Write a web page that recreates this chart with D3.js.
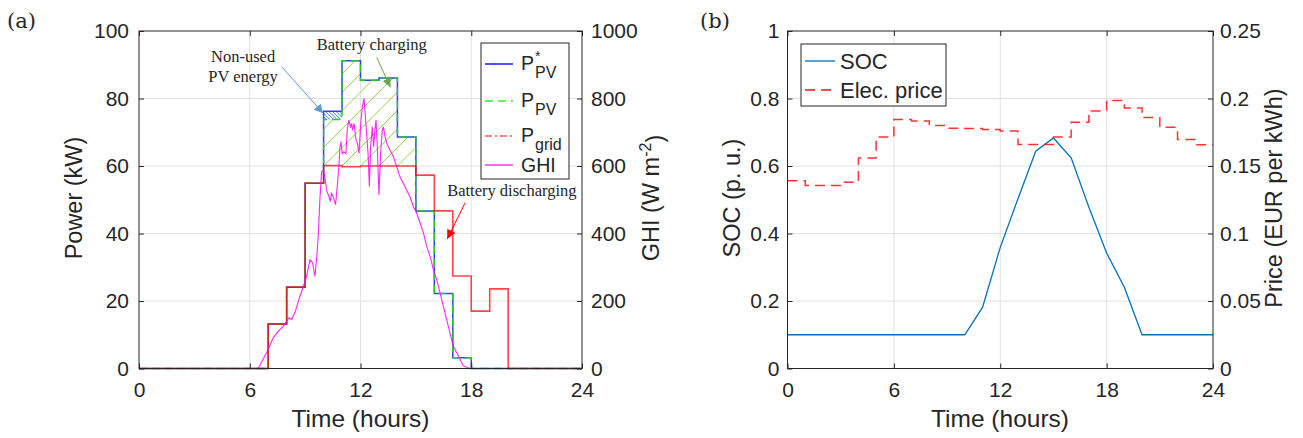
<!DOCTYPE html>
<html><head><meta charset="utf-8">
<script src="https://cdn.jsdelivr.net/npm/d3@7"></script>
<style>
body{margin:0;background:#fff}
text{font-family:"Liberation Sans",Arial,sans-serif;fill:#262626}
.serif{font-family:"Liberation Serif","Times New Roman",serif}
.panel{font-family:"DejaVu Serif",serif}
</style>
</head><body><svg id="c" width="1303" height="438"></svg>
<script>
// ---------------- DATA ----------------
// hourly step values, interval [h, h+1)
const pvStar = [0,0,0,0,0,0,0,13.2,24.1,54.9,76.2,91.2,85.4,86.1,68.6,46.7,22.2,3.2,0,0,0,0,0,0];
const pvUsed = [0,0,0,0,0,0,0,13.2,24.1,54.9,73.8,91.2,85.4,86.1,68.6,46.7,22.2,3.2,0,0,0,0,0,0];
const pGrid  = [0,0,0,0,0,0,0,13.2,24.1,54.9,60.1,59.8,60,60,60,57.3,46.7,27.4,17.0,23.6,0,0,0,0];
const ghiT = [0,6.46,7.0,7.27,7.54,7.81,7.99,8.14,8.26,8.44,8.72,8.90,9.08,9.26,9.40,9.53,9.62,9.71,9.80,9.89,9.98,10.07,10.16,10.29,10.36,10.43,10.52,10.65,10.74,10.83,10.89,10.94,11.01,11.10,11.21,11.28,11.37,11.46,11.52,11.57,11.65,11.74,11.83,11.92,12.01,12.10,12.19,12.24,12.33,12.41,12.48,12.55,12.64,12.71,12.78,12.84,12.91,13.00,13.09,13.18,13.24,13.33,13.42,13.60,13.78,13.96,14.14,14.32,14.50,14.68,14.86,15.01,15.23,15.41,15.59,15.77,15.95,16.13,16.31,16.49,16.67,16.85,17.03,17.22,17.40,17.58,17.94,24];
const ghiV = [0,0,56,91,110,125,140,150,145,165,214,243,273,322,314,273,322,391,500,583,588,568,529,509,495,519,509,485,539,598,657,672,637,642,637,706,736,716,726,706,726,682,667,637,726,775,800,766,697,637,539,657,716,657,706,736,657,514,637,706,716,687,667,647,628,598,568,549,529,509,480,465,431,401,362,332,293,263,224,184,145,105,66,46,27,7,0,0];
const socT = d3.range(0,25);
const socV = [0.1,0.1,0.1,0.1,0.1,0.1,0.1,0.1,0.1,0.1,0.1,0.181,0.359,0.503,0.644,0.683,0.624,0.478,0.342,0.241,0.1,0.1,0.1,0.1,0.1];
const price = [0.139,0.1356,0.1356,0.138,0.156,0.1715,0.1844,0.1834,0.180,0.178,0.1777,0.177,0.176,0.166,0.166,0.1715,0.1824,0.1908,0.1985,0.193,0.186,0.1787,0.1696,0.1658];
const xTicks = [0,6,12,18,24];
const powerTicks = [0,20,40,60,80,100];
const ghiTicks = [0,200,400,600,800,1000];
const socTicks = [0,0.2,0.4,0.6,0.8,1];
const priceTicks = [0,0.05,0.1,0.15,0.2,0.25];
const chargeStart = 10, chargeEnd = 15, unusedStart = 10, unusedEnd = 11;
// annotations in data coordinates [hour, kW]
const annTexts = [
  {t:"Non-used", h:5.64, v:92.4}, {t:"PV energy", h:5.64, v:86.5},
  {t:"Battery charging", h:12.61, v:95.9}, {t:"Battery discharging", h:20.2, v:52.6}
];
const annArrows = [
  {from:[7.73,89.4], to:[9.98,75.6], color:"#5b9bd5"},
  {from:[12.88,92.2], to:[13.62,83.3], color:"#6aa84f"},
  {from:[17.67,49.1], to:[16.7,38.4], color:"#ff0000"}
];

// ---------------- SCALES ----------------
const svg = d3.select("#c");
const xA = d3.scaleLinear().domain([0,24]).range([139,582]);
const yA = d3.scaleLinear().domain([0,100]).range([368.5,31]);
const yA2 = d3.scaleLinear().domain([0,1000]).range([368.5,31]);
const xB = d3.scaleLinear().domain([0,24]).range([787.5,1213]);
const yB = d3.scaleLinear().domain([0,1]).range([368.5,31]);
const yB2 = d3.scaleLinear().domain([0,0.25]).range([368.5,31]);

const steps = vals => vals.map((v,i)=>[i,v]).concat([[vals.length, vals[vals.length-1]]]);

function grid(g, x, y, xt, yt){
  const [x0,x1]=x.range(), [y1,y0]=y.range();
  g.append("g").selectAll("line").data(xt.slice(1,-1)).join("line")
    .attr("x1",d=>x(d)).attr("x2",d=>x(d)).attr("y1",y0).attr("y2",y1)
    .attr("stroke","#e2e2e2").attr("stroke-width",1);
  g.append("g").selectAll("line").data(yt.slice(1,-1)).join("line")
    .attr("y1",d=>y(d)).attr("y2",d=>y(d)).attr("x1",x0).attr("x2",x1)
    .attr("stroke","#e2e2e2").attr("stroke-width",1);
}
function axes(g, x, yl, yr, ylt, yrt, padL, padR){
  const [x0,x1]=x.range(), [y1,y0]=yl.range();
  const style = sel => {
    sel.attr("font-size",null).attr("font-family",null);
    sel.select(".domain").remove();
    sel.selectAll(".tick line").attr("stroke","#262626");
    sel.selectAll("text").style("font-size","21px").attr("fill","#262626");
  };
  g.append("g").attr("transform",`translate(0,${y1})`)
    .call(d3.axisBottom(x).tickValues(xTicks).tickSize(-5).tickPadding(14)).call(style);
  g.append("g").attr("transform",`translate(0,${y0})`)
    .call(d3.axisTop(x).tickValues(xTicks).tickSize(-5).tickFormat("")).call(style);
  g.append("g").attr("transform",`translate(${x0},0)`)
    .call(d3.axisLeft(yl).tickValues(ylt).tickSize(-5).tickPadding(padL).tickFormat(d=>String(d))).call(style);
  g.append("g").attr("transform",`translate(${x1},0)`)
    .call(d3.axisRight(yr).tickValues(yrt).tickSize(-5).tickPadding(padR).tickFormat(d=>String(d))).call(style);
  g.append("rect").attr("x",x0).attr("y",y0).attr("width",x1-x0).attr("height",y1-y0)
    .attr("fill","none").attr("stroke","#262626").attr("stroke-width",1);
}

const defs = svg.append("defs");
function marker(id,color){
  defs.append("marker").attr("id",id).attr("viewBox","0 0 10 10").attr("refX",10).attr("refY",5)
    .attr("markerWidth",9).attr("markerHeight",9).attr("markerUnits","userSpaceOnUse").attr("orient","auto")
    .append("path").attr("d","M0,0 L10,5 L0,10 Z").attr("fill",color);
}
annArrows.forEach((a,i)=>marker("arr"+i,a.color));

// ---------------- PANEL (a) ----------------
const gA = svg.append("g");
grid(gA, xA, yA, xTicks, powerTicks);

const lineA = d3.line().x(d=>xA(d[0])).y(d=>yA(d[1])).curve(d3.curveStepAfter);
const areaA = d3.area().x(d=>xA(d[0])).y0(d=>yA(d[1])).y1(d=>yA(d[2])).curve(d3.curveStepAfter);

// charging region: between pGrid and pvUsed
const chData = d3.range(chargeStart, chargeEnd+1).map(h=>{
  const i = Math.min(h, chargeEnd-1); return [h, pGrid[i], pvUsed[i]];});
defs.append("clipPath").attr("id","chClip").append("path").attr("d", areaA(chData));
const gH = gA.append("g").attr("clip-path","url(#chClip)");
d3.range(-30,40).forEach(k=>{
  const x0 = xA(k), y0 = yA(60);
  gH.append("line").attr("x1",x0-500).attr("y1",y0+500).attr("x2",x0+500).attr("y2",y0-500)
    .attr("stroke","#92cc48").attr("stroke-width",1);
});
// non-used region: between pvUsed and pvStar
const nuData = d3.range(unusedStart, unusedEnd+1).map(h=>{
  const i = Math.min(h, unusedEnd-1); return [h, pvUsed[i], pvStar[i]];});
defs.append("clipPath").attr("id","nuClip").append("path").attr("d", areaA(nuData));
const gN = gA.append("g").attr("clip-path","url(#nuClip)");
d3.range(0,30).forEach(k=>{
  const x0 = xA(unusedStart) - 20 + k*3.6, y0 = yA(pvStar[unusedStart]);
  gN.append("line").attr("x1",x0).attr("y1",y0).attr("x2",x0+40).attr("y2",y0+40)
    .attr("stroke","#3f7fdc").attr("stroke-width",1);
});

gA.append("path").attr("d", lineA(steps(pvStar))).attr("fill","none")
  .attr("stroke","#1a1aff").attr("stroke-width",1.5).attr("stroke-opacity",0.85);
gA.append("path").attr("d", lineA(steps(pvUsed))).attr("fill","none")
  .attr("stroke","#22cc22").attr("stroke-width",1.4).attr("stroke-dasharray","8,5");
gA.append("path").attr("d", lineA(steps(pGrid))).attr("fill","none")
  .attr("stroke","#ff0000").attr("stroke-width",1.6).attr("stroke-opacity",0.72);
gA.append("path").attr("d", d3.line().x((d,i)=>xA(ghiT[i])).y(d=>yA2(d))(ghiV)).attr("fill","none")
  .attr("stroke","#ff00ff").attr("stroke-width",1.1).attr("stroke-opacity",0.85);

// annotations
annArrows.forEach((a,i)=>{
  gA.append("line").attr("x1",xA(a.from[0])).attr("y1",yA(a.from[1]))
    .attr("x2",xA(a.to[0])).attr("y2",yA(a.to[1]))
    .attr("stroke",a.color).attr("stroke-width",1).attr("marker-end",`url(#arr${i})`);
});
annTexts.forEach(a=>{
  gA.append("text").attr("class","serif").attr("x",xA(a.h)).attr("y",yA(a.v)).attr("dy","0.32em")
    .attr("text-anchor","middle").style("font-size","16.5px").attr("fill","#111").text(a.t);
});

axes(gA, xA, yA, yA2, powerTicks, ghiTicks, 10, 9);

// legend (a)
const lg = gA.append("g");
lg.append("rect").attr("x",481).attr("y",43).attr("width",88).attr("height",136)
  .attr("fill","#fff").attr("stroke","#262626");
const legA = [
  {y:64, color:"#4d4dff", dash:null, main:"P", sub:"PV", sup:"*"},
  {y:101, color:"#66ee66", dash:"8,5", main:"P", sub:"PV"},
  {y:136, color:"#ff8080", dash:"7,3,2,3", main:"P", sub:"grid"},
  {y:165, color:"#ff66ff", dash:null, main:"GHI"}
];
legA.forEach(e=>{
  lg.append("line").attr("x1",485).attr("x2",513).attr("y1",e.y).attr("y2",e.y)
    .attr("stroke",e.color).attr("stroke-width",2).attr("stroke-dasharray",e.dash);
  lg.append("text").attr("x",521).attr("y",e.sub? e.y+6 : e.y+7).style("font-size","19.5px").text(e.main);
  if(e.sup) lg.append("text").attr("x",535).attr("y",e.y-3).style("font-size","14px").text(e.sup);
  if(e.sub) lg.append("text").attr("x",535).attr("y",e.y+14).style("font-size","16px").text(e.sub);
});

// labels (a)
svg.append("text").attr("x",(139+582)/2).attr("y",427).attr("text-anchor","middle").style("font-size","24.5px").text("Time (hours)");
svg.append("text").attr("transform","translate(82,198) rotate(-90)").attr("text-anchor","middle").style("font-size","23.5px").text("Power (kW)");
{
  const t = svg.append("text").attr("transform","translate(659,198) rotate(-90)").attr("text-anchor","middle").style("font-size","23.5px");
  t.append("tspan").text("GHI (W m");
  t.append("tspan").attr("dy","-0.5em").style("font-size","16px").text("-2");
  t.append("tspan").attr("dy","0.5em").text(")");
}
svg.append("text").attr("class","panel").attr("x",7).attr("y",28).style("font-size","21px").text("(a)");

// ---------------- PANEL (b) ----------------
const gB = svg.append("g");
grid(gB, xB, yB, xTicks, socTicks);
gB.append("path").attr("d", d3.line().x((d,i)=>xB(socT[i])).y(d=>yB(d))(socV)).attr("fill","none")
  .attr("stroke","#0072bd").attr("stroke-width",1.3);
gB.append("path").attr("d", d3.line().x(d=>xB(d[0])).y(d=>yB2(d[1])).curve(d3.curveStepAfter)(steps(price)))
  .attr("fill","none").attr("stroke","#ff0000").attr("stroke-width",1.5).attr("stroke-opacity",0.8)
  .attr("stroke-dasharray","10,6");
axes(gB, xB, yB, yB2, socTicks, priceTicks, 8, 7);

const lgB = gB.append("g");
lgB.append("rect").attr("x",801).attr("y",44).attr("width",145).attr("height",62)
  .attr("fill","#fff").attr("stroke","#262626");
lgB.append("line").attr("x1",805).attr("x2",835).attr("y1",61).attr("y2",61).attr("stroke","#5aa0d8").attr("stroke-width",2);
lgB.append("text").attr("x",840).attr("y",69).style("font-size","22px").text("SOC");
lgB.append("line").attr("x1",805).attr("x2",835).attr("y1",90).attr("y2",90).attr("stroke","#ff5050").attr("stroke-width",2).attr("stroke-dasharray","10,6");
lgB.append("text").attr("x",840).attr("y",98).style("font-size","22px").text("Elec. price");

svg.append("text").attr("x",1000).attr("y",427).attr("text-anchor","middle").style("font-size","24.5px").text("Time (hours)");
svg.append("text").attr("transform","translate(740,198) rotate(-90)").attr("text-anchor","middle").style("font-size","23.5px").text("SOC (p. u.)");
svg.append("text").attr("transform","translate(1282,198) rotate(-90)").attr("text-anchor","middle").style("font-size","23.5px").text("Price (EUR per kWh)");
svg.append("text").attr("class","panel").attr("x",700).attr("y",28).style("font-size","21px").text("(b)");
</script>
</body></html>
